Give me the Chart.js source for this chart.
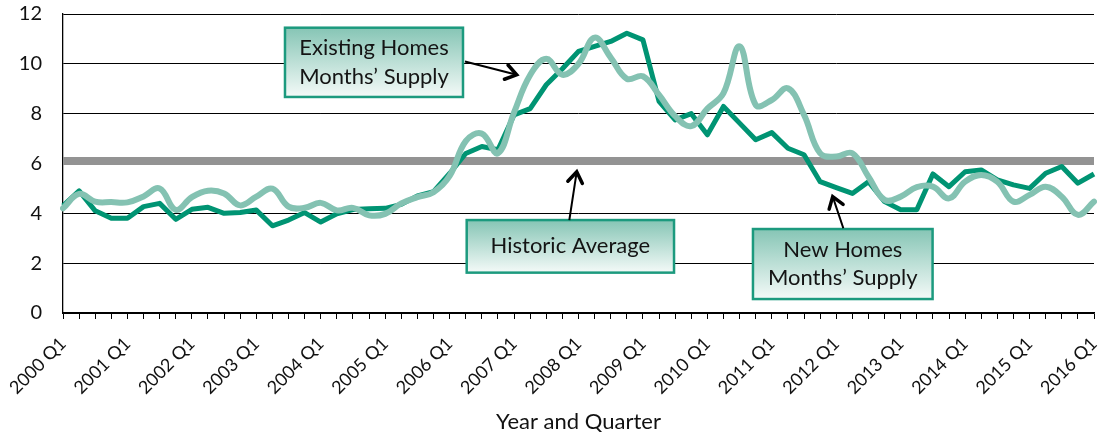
<!DOCTYPE html>
<html><head><meta charset="utf-8">
<script src="https://cdn.jsdelivr.net/npm/chart.js@4"></script>
<style>html,body{margin:0;padding:0;background:#fff}#wrap{width:1099px;height:436px}</style>
</head><body><div id="wrap"><canvas id="c" width="1099" height="436"></canvas></div>
<script>
const categories = [
 '2000 Q1','2000 Q2','2000 Q3','2000 Q4','2001 Q1','2001 Q2','2001 Q3','2001 Q4',
 '2002 Q1','2002 Q2','2002 Q3','2002 Q4','2003 Q1','2003 Q2','2003 Q3','2003 Q4',
 '2004 Q1','2004 Q2','2004 Q3','2004 Q4','2005 Q1','2005 Q2','2005 Q3','2005 Q4',
 '2006 Q1','2006 Q2','2006 Q3','2006 Q4','2007 Q1','2007 Q2','2007 Q3','2007 Q4',
 '2008 Q1','2008 Q2','2008 Q3','2008 Q4','2009 Q1','2009 Q2','2009 Q3','2009 Q4',
 '2010 Q1','2010 Q2','2010 Q3','2010 Q4','2011 Q1','2011 Q2','2011 Q3','2011 Q4',
 '2012 Q1','2012 Q2','2012 Q3','2012 Q4','2013 Q1','2013 Q2','2013 Q3','2013 Q4',
 '2014 Q1','2014 Q2','2014 Q3','2014 Q4','2015 Q1','2015 Q2','2015 Q3','2015 Q4',
 '2016 Q1'
];
const newHomes = [
 4.3, 4.9, 4.1, 3.8, 3.8, 4.27, 4.4, 3.76, 4.16, 4.24,
 4.0, 4.03, 4.13, 3.5, 3.73, 4.03, 3.65, 3.98, 4.15, 4.18,
 4.2, 4.36, 4.7, 4.87, 5.6, 6.4, 6.68, 6.55, 7.95, 8.2,
 9.16, 9.8, 10.5, 10.7, 10.9, 11.23, 10.96, 8.49, 7.75, 8.0,
 7.15, 8.29, 7.62, 6.95, 7.24, 6.61, 6.35, 5.27, 5.03, 4.8,
 5.27, 4.47, 4.14, 4.14, 5.58, 5.07, 5.67, 5.74, 5.34, 5.14,
 5.0, 5.61, 5.88, 5.21, 5.58
];
const existingHomes = [
 4.2, 4.78, 4.47, 4.45, 4.44, 4.68, 5.0, 4.14, 4.65, 4.91,
 4.8, 4.32, 4.67, 4.99, 4.27, 4.22, 4.42, 4.12, 4.22, 3.92,
 3.98, 4.4, 4.65, 4.85, 5.5, 6.9, 7.2, 6.41, 8.05, 9.55,
 10.2, 9.56, 10.0, 11.05, 10.25, 9.4, 9.5, 8.75, 7.9, 7.5,
 8.2, 8.82, 10.7, 8.35, 8.55, 9.02, 7.95, 6.41, 6.28, 6.41,
 5.47, 4.54, 4.67, 5.05, 5.07, 4.6, 5.27, 5.54, 5.27, 4.47,
 4.74, 5.07, 4.67, 3.94, 4.47
];
const historicAverage = 6.1;
const yTicks = [0, 2, 4, 6, 8, 10, 12];

// callouts: box in (category index, value) units, arrow tail -> tip
const callouts = [
 {lines:['Existing Homes','Months\u2019 Supply'], box:[13.78, 11.45, 24.83, 8.67], arrow:[24.95, 10.09, 28.16, 9.56]},
 {lines:['Historic Average'], box:[25.06, 3.73, 37.93, 1.62], arrow:[31.43, 3.73, 31.89, 5.67]},
 {lines:['New Homes','Months\u2019 Supply'], box:[42.83, 3.37, 53.98, 0.56], arrow:[48.44, 3.40, 47.78, 4.67]}
];

const calloutPlugin = {
 id:'callouts',
 afterDraw(chart){
  const ctx = chart.ctx, xs = chart.scales.x, ys = chart.scales.y;
  callouts.forEach(c => {
   const x1 = xs.getPixelForValue(c.box[0]), y1 = ys.getPixelForValue(c.box[1]);
   const x2 = xs.getPixelForValue(c.box[2]), y2 = ys.getPixelForValue(c.box[3]);
   ctx.save();
   const g = ctx.createLinearGradient(0, y1, 0, y2);
   g.addColorStop(0, '#86c5b5');
   g.addColorStop(1, '#f4faf8');
   ctx.fillStyle = g;
   ctx.fillRect(x1, y1, x2 - x1, y2 - y1);
   ctx.strokeStyle = '#1c9a7e';
   ctx.lineWidth = 2.5;
   ctx.strokeRect(x1, y1, x2 - x1, y2 - y1);
   ctx.fillStyle = '#141414';
   ctx.font = '22px Lato';
   ctx.textAlign = 'center';
   ctx.textBaseline = 'alphabetic';
   const cx = (x1 + x2) / 2, cy = (y1 + y2) / 2;
   const lh = 28.5;
   c.lines.forEach((t, i) => {
    ctx.fillText(t, cx, cy + (i - (c.lines.length - 1) / 2) * lh + 7);
   });
   const ax = xs.getPixelForValue(c.arrow[0]), ay = ys.getPixelForValue(c.arrow[1]);
   const bx = xs.getPixelForValue(c.arrow[2]), by = ys.getPixelForValue(c.arrow[3]);
   ctx.strokeStyle = '#000';
   ctx.lineWidth = 2;
   ctx.beginPath(); ctx.moveTo(ax, ay); ctx.lineTo(bx, by); ctx.stroke();
   const ang = Math.atan2(by - ay, bx - ax), L = 13, sp = 0.6;
   ctx.lineWidth = 3.5;
   ctx.lineJoin = 'miter';
   ctx.lineCap = 'round';
   ctx.beginPath();
   ctx.moveTo(bx - L * Math.cos(ang - sp), by - L * Math.sin(ang - sp));
   ctx.lineTo(bx, by);
   ctx.lineTo(bx - L * Math.cos(ang + sp), by - L * Math.sin(ang + sp));
   ctx.stroke();
   ctx.restore();
  });
 }
};

new Chart(document.getElementById('c'), {
 type:'line',
 data:{
  labels: categories,
  datasets:[
   {label:'Existing Homes Months\u2019 Supply', data: existingHomes, borderColor:'#84c2b2', borderWidth:6, tension:0.4, pointRadius:0, fill:false, borderCapStyle:'round', borderJoinStyle:'round'},
   {label:'New Homes Months\u2019 Supply', data: newHomes, borderColor:'#009473', borderWidth:5, tension:0, pointRadius:0, fill:false, borderJoinStyle:'round'},
   {label:'Historic Average', data:[{x:categories[0], y:historicAverage},{x:categories[categories.length-1], y:historicAverage}], borderColor:'#939393', borderWidth:8, pointRadius:0, fill:false, borderCapStyle:'butt'}
  ]
 },
 options:{
  responsive:false, animation:false, devicePixelRatio:1,
  layout:{padding:{left:0, right:5, top:14, bottom:0}},
  plugins:{legend:{display:false}, tooltip:{enabled:false}},
  scales:{
   x:{
    type:'category', offset:false,
    grid:{display:true, drawOnChartArea:false, drawTicks:true, tickLength:6, color:'#000', lineWidth:1},
    border:{color:'#000', width:1.3},
    ticks:{autoSkip:false, maxRotation:45, minRotation:45, padding:14, labelOffset:0, color:'#111', font:{family:'Lato', size:18},
     callback:function(v, i){ return i % 4 === 0 ? this.getLabelForValue(v) : ''; }},
    title:{display:true, text:'Year and Quarter', color:'#111', font:{family:'Lato', size:22}, padding:{top:0, bottom:1}},
    afterFit(s){ s.height = 123; s.paddingLeft = 0; s.paddingRight = 0; s.paddingTop = 0; s.paddingBottom = 0; }
   },
   y:{
    min:0, max:12,
    afterBuildTicks(s){ s.ticks = yTicks.map(v => ({value:v})); },
    ticks:{padding:21, color:'#111', font:{family:'Lato', size:20}},
    grid:{color:'#000', lineWidth:1, drawTicks:false},
    border:{color:'#000', width:1.3},
    afterFit(s){ s.width = 63; s.paddingTop = 0; s.paddingBottom = 0; }
   }
  }
 },
 plugins:[calloutPlugin]
});
</script>
</body></html>
